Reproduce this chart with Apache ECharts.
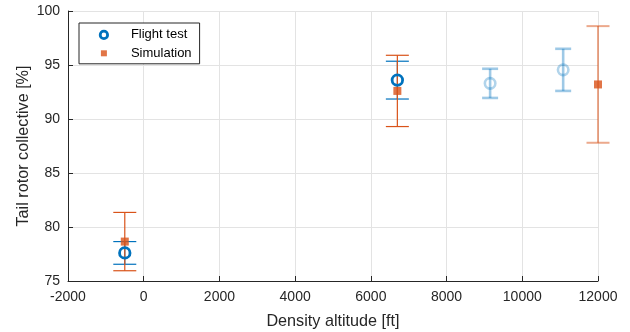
<!DOCTYPE html>
<html>
<head>
<meta charset="utf-8">
<script src="https://cdn.jsdelivr.net/npm/echarts@6/dist/echarts.min.js"></script>
<style>html,body{margin:0;padding:0;background:#fff}#c{width:630px;height:332px}</style>
</head>
<body>
<div id="c"></div>
<script>
// ---- data ----
const flightAltitude = [-500, 6700];
const flightCollective = [77.6, 93.6];
const flightError = [1.05, 1.75];
const flightExtraAltitude = [9150, 11080];
const flightExtraCollective = [93.3, 94.55];
const flightExtraError = [1.35, 1.95];
const simAltitude = [-500, 6700];
const simCollective = [78.65, 92.6];
const simError = [2.7, 3.3];
const simExtraAltitude = [12000];
const simExtraCollective = [93.2];
const simExtraError = [5.4];
const xRange = [-2000, 12000, 2000];
const yRange = [75, 100, 5];
const legendNames = ['Flight test', 'Simulation'];

const BLUE = '#0072BD', ORANGE = '#D95319';
const LIGHTBLUE = 'rgba(0,114,189,0.38)', LIGHTORANGE = 'rgba(217,83,25,0.5)';
const FONT = '"Liberation Sans", Arial, Helvetica, sans-serif';
const TXT = '#262626';

function rows(a, v, e) { return a.map((x, i) => e ? [x, v[i], e[i]] : [x, v[i]]); }

function errorBars(a, v, e, color, lw, capW) {
  return {
    type: 'custom', clip: false, silent: true,
    encode: { x: 0, y: 1 },
    data: rows(a, v, e),
    renderItem: function (params, api) {
      const x = api.value(0), y = api.value(1), d = api.value(2);
      const t = api.coord([x, y + d]), b = api.coord([x, y - d]);
      const hw = capW / 2;
      const st = { stroke: color, lineWidth: lw };
      return { type: 'group', children: [
        { type: 'line', shape: { x1: t[0], y1: t[1], x2: b[0], y2: b[1] }, style: st },
        { type: 'line', shape: { x1: t[0] - hw, y1: t[1], x2: t[0] + hw, y2: t[1] }, style: st },
        { type: 'line', shape: { x1: b[0] - hw, y1: b[1], x2: b[0] + hw, y2: b[1] }, style: st }
      ]};
    }
  };
}

const chart = echarts.init(document.getElementById('c'), null, { renderer: 'canvas' });
chart.setOption({
  animation: false,
  backgroundColor: '#fff',
  textStyle: { fontFamily: FONT },
  grid: { left: 68, right: 32, top: 11, bottom: 51, containLabel: false, outerBoundsMode: 'none' },
  legend: {
    orient: 'vertical', left: 79, top: 23,
    padding: [5, 8, 4, 18], itemGap: 5,
    itemWidth: 44, itemHeight: 11,
    backgroundColor: '#fff', borderColor: TXT, borderWidth: 1, borderRadius: 0,
    textStyle: { fontFamily: FONT, fontSize: 13, color: '#000' },
    data: [
      { name: legendNames[0], icon: 'path://M0,0M11,11M9.2,5.5A3.7,3.7 0 1 1 1.8,5.5A3.7,3.7 0 1 1 9.2,5.5Z',
        itemStyle: { color: 'rgba(0,0,0,0)', borderColor: BLUE, borderWidth: 2.8 } },
      { name: legendNames[1], icon: 'path://M0,0M11,11M2.5,2.5L8.5,2.5L8.5,8.5L2.5,8.5Z',
        itemStyle: { color: ORANGE, borderWidth: 0 } }
    ]
  },
  xAxis: {
    type: 'value', min: xRange[0], max: xRange[1], interval: xRange[2],
    name: 'Density altitude [ft]', nameLocation: 'middle', nameGap: 33, nameMoveOverlap: false,
    nameTextStyle: { fontFamily: FONT, fontSize: 16.2, color: TXT },
    axisLine: { show: true, onZero: false, lineStyle: { color: TXT, width: 1 } },
    axisTick: { show: true, inside: true, length: 5, lineStyle: { color: TXT } },
    axisLabel: { fontFamily: FONT, fontSize: 14, color: TXT, margin: 9, formatter: v => String(v) },
    splitLine: { show: true, lineStyle: { color: '#e3e3e3', width: 1 } }
  },
  yAxis: {
    type: 'value', min: yRange[0], max: yRange[1], interval: yRange[2],
    name: 'Tail rotor collective [%]', nameLocation: 'middle', nameGap: 36, nameMoveOverlap: false,
    nameTextStyle: { fontFamily: FONT, fontSize: 16.2, color: TXT },
    axisLine: { show: true, onZero: false, lineStyle: { color: TXT, width: 1 } },
    axisTick: { show: true, inside: true, length: 5, lineStyle: { color: TXT } },
    axisLabel: { fontFamily: FONT, fontSize: 14, color: TXT, margin: 8, padding: [4, 0, 0, 0], formatter: v => String(v) },
    splitLine: { show: true, lineStyle: { color: '#e3e3e3', width: 1 } }
  },
  series: [
    errorBars(flightAltitude, flightCollective, flightError, BLUE, 1.2, 23),
    { type: 'scatter', name: legendNames[0], data: rows(flightAltitude, flightCollective),
      symbol: 'circle', symbolSize: 10.5, clip: false,
      itemStyle: { color: 'rgba(0,0,0,0)', borderColor: BLUE, borderWidth: 2.8, opacity: 1 } },
    errorBars(flightExtraAltitude, flightExtraCollective, flightExtraError, LIGHTBLUE, 2.6, 16),
    { type: 'scatter', name: 'Flight test (additional)', data: rows(flightExtraAltitude, flightExtraCollective),
      symbol: 'circle', symbolSize: 10.5, clip: false,
      itemStyle: { color: 'rgba(0,0,0,0)', borderColor: LIGHTBLUE, borderWidth: 2.6 } },
    errorBars(simAltitude, simCollective, simError, ORANGE, 1.2, 23),
    { type: 'scatter', name: legendNames[1], data: rows(simAltitude, simCollective),
      symbol: 'rect', symbolSize: 8, clip: false,
      itemStyle: { color: ORANGE } },
    errorBars(simExtraAltitude, simExtraCollective, simExtraError, LIGHTORANGE, 2, 23),
    { type: 'scatter', name: 'Simulation (additional)', data: rows(simExtraAltitude, simExtraCollective),
      symbol: 'rect', symbolSize: 8, clip: false,
      itemStyle: { color: ORANGE } }
  ]
});
</script>
</body>
</html>
